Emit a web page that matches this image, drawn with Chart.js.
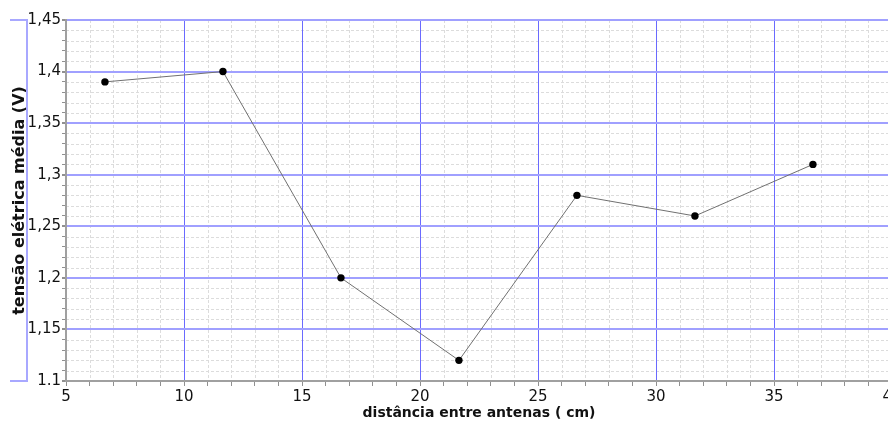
<!DOCTYPE html>
<html>
<head>
<meta charset="utf-8">
<script src="https://cdn.jsdelivr.net/npm/chart.js@4"></script>
<style>
  html, body { margin: 0; padding: 0; background: #fff; overflow: hidden; }
  #wrap { width: 900px; height: 426px; }
</style>
</head>
<body>
<div id="wrap"><canvas id="chart"></canvas></div>
<script>
// distance between antennas (cm) and mean voltage (V)
const distances = [6.65, 11.65, 16.65, 21.65, 26.65, 31.65, 36.65];
const voltages = [1.39, 1.40, 1.20, 1.12, 1.28, 1.26, 1.31];

const xTickLabels = ["5", "10", "15", "20", "25", "30", "35", "40"];
const yTickLabels = ["1.1", "1,15", "1,2", "1,25", "1,3", "1,35", "1,4", "1,45"];

const FONT = "'DejaVu Sans', Verdana, sans-serif";

const xIdx = (v) => Math.round(v);
const yIdx = (v) => Math.round((v - 1.1) * 100);

// dashed minor grid, drawn under the major grid lines
const minorGridPlugin = {
    id: "minorGrid",
    beforeDraw(chart) {
        const { ctx, chartArea, scales } = chart;
        ctx.save();
        ctx.strokeStyle = "#dcdcdc";
        ctx.lineWidth = 1;
        ctx.setLineDash([3, 2]);
        ctx.beginPath();
        scales.x.ticks.forEach((t) => {
            if (xIdx(t.value) % 5 === 0) return;
            const px = Math.round(scales.x.getPixelForValue(t.value)) + 0.5;
            ctx.moveTo(px, chartArea.top);
            ctx.lineTo(px, chartArea.bottom);
        });
        scales.y.ticks.forEach((t) => {
            if (yIdx(t.value) % 5 === 0) return;
            const py = Math.round(scales.y.getPixelForValue(t.value)) + 0.5;
            ctx.moveTo(chartArea.left, py);
            ctx.lineTo(chartArea.right, py);
        });
        ctx.stroke();
        ctx.restore();
    }
};

// bracket drawn to the left of the y axis title
const bracketPlugin = {
    id: "bracket",
    afterDraw(chart) {
        const { ctx, chartArea } = chart;
        ctx.save();
        ctx.strokeStyle = "#a8a8ff";
        ctx.lineWidth = 2;
        ctx.beginPath();
        ctx.moveTo(10, chartArea.top);
        ctx.lineTo(27, chartArea.top);
        ctx.lineTo(27, chartArea.bottom);
        ctx.lineTo(10, chartArea.bottom);
        ctx.stroke();
        ctx.restore();
    }
};

new Chart(document.getElementById("chart"), {
    type: "scatter",
    data: {
        datasets: [{
            data: distances.map((d, i) => ({ x: d, y: voltages[i] })),
            showLine: true,
            borderColor: "#707070",
            borderWidth: 1,
            pointBackgroundColor: "#000",
            pointBorderColor: "#000",
            pointRadius: 3.7,
            pointBorderWidth: 0,
        }],
    },
    options: {
        responsive: true,
        maintainAspectRatio: false,
        animation: false,
        layout: { padding: { top: 20, right: 8, left: 0, bottom: 0 } },
        plugins: { legend: { display: false }, tooltip: { enabled: false } },
        scales: {
            x: {
                type: "linear",
                min: 5,
                max: 40,
                afterFit: (s) => {
                    s.height = 45;
                    s.paddingLeft = 0;
                    s.paddingRight = 0;
                },
                ticks: {
                    stepSize: 1,
                    autoSkip: false,
                    maxRotation: 0,
                    maxTicksLimit: 100,
                    padding: 2,
                    color: "#111",
                    font: { family: FONT, size: 15 },
                    callback: (v) => (xIdx(v) % 5 === 0 ? xTickLabels[(xIdx(v) - 5) / 5] : ""),
                },
                grid: {
                    color: (c) => (xIdx(c.tick.value) % 5 === 0 ? "#6a6aff" : "rgba(0,0,0,0)"),
                    tickColor: "#909090",
                    tickLength: 5,
                },
                border: { color: "#a0a0a0", width: 2 },
                title: {
                    display: true,
                    text: "distância entre antenas ( cm)",
                    color: "#111",
                    font: { family: FONT, size: 14, weight: "bold" },
                    padding: { top: 0, bottom: 4 },
                },
            },
            y: {
                min: 1.1,
                max: 1.45,
                afterFit: (s) => { s.width = 66; },
                ticks: {
                    stepSize: 0.01,
                    autoSkip: false,
                    maxTicksLimit: 100,
                    padding: 1,
                    color: "#111",
                    font: { family: FONT, size: 15 },
                    callback: (v) => (yIdx(v) % 5 === 0 ? yTickLabels[yIdx(v) / 5] : ""),
                },
                grid: {
                    color: (c) => (yIdx(c.tick.value) % 5 === 0 ? "#a0a0ff" : "rgba(0,0,0,0)"),
                    lineWidth: (c) => (yIdx(c.tick.value) % 5 === 0 ? 2 : 1),
                    tickColor: "#909090",
                    tickLength: 4,
                },
                border: { color: "#a0a0a0", width: 2 },
                title: {
                    display: true,
                    text: "tensão elétrica média (V)",
                    color: "#111",
                    font: { family: FONT, size: 16, weight: "bold" },
                    padding: { top: 10, bottom: 0 },
                },
            },
        },
    },
    plugins: [minorGridPlugin, bracketPlugin],
});
</script>
</body>
</html>
